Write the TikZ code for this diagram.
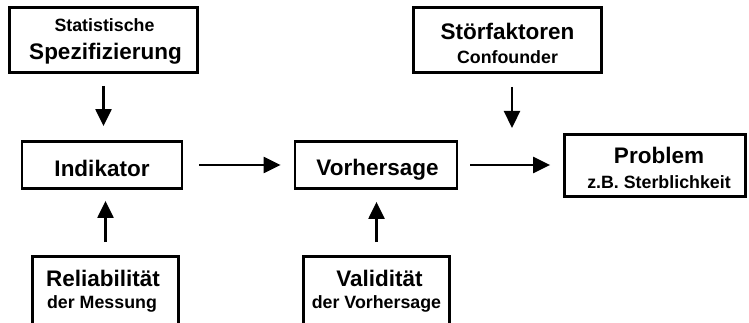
\documentclass[tikz,border=0pt]{standalone}
\usepackage{fontspec}
\setmainfont{Liberation Sans}
\usetikzlibrary{arrows.meta}
\begin{document}
\begin{tikzpicture}[x=1pt,y=-1pt,
  box/.style={draw,line width=2.8pt,rectangle,inner sep=0pt},
  bigtxt/.style={anchor=base,inner sep=0pt,font=\bfseries\fontsize{22.5}{24}\selectfont},
  smalltxt/.style={anchor=base,inner sep=0pt,font=\bfseries\fontsize{17.8}{20}\selectfont},
  flow/.style={line width=2.3pt,-{Triangle[length=17pt,width=16pt]}}]
\useasboundingbox (0,0) rectangle (749,323);

% upper row of influences
\node[box,minimum width=188,minimum height=65] (spez) at (103.5,40) {};
\node[smalltxt] (spez1) at ([xshift=1pt,yshift=8.3pt]spez.center) {Statistische};
\node[bigtxt]   (spez2) at ([xshift=2pt,yshift=-20pt]spez.center) {Spezifizierung};

\node[box,minimum width=188,minimum height=65] (stoer) at (507.5,40) {};
\node[bigtxt]   (stoer1) at ([yshift=0.7pt]stoer.center) {Störfaktoren};
\node[smalltxt] (stoer2) at ([yshift=-23.3pt]stoer.center) {Confounder};

% main chain
\node[box,minimum width=160,minimum height=47] (ind) at (102,165) {};
\node[bigtxt] (ind1) at ([yshift=-11.5pt]ind.center) {Indikator};

\node[box,minimum width=162,minimum height=47] (vor) at (376,165) {};
\node[bigtxt] (vor1) at ([xshift=1.5pt,yshift=-11pt]vor.center) {Vorhersage};

\node[box,minimum width=181,minimum height=62] (prob) at (655,165.5) {};
\node[bigtxt]   (prob1) at ([xshift=4pt,yshift=2.2pt]prob.center) {Problem};
\node[smalltxt] (prob2) at ([xshift=4pt,yshift=-22.8pt]prob.center) {z.B. Sterblichkeit};

% quality criteria below
\node[box,minimum width=146,minimum height=71] (rel) at (105.5,292) {};
\node[bigtxt]   (rel1) at ([xshift=-2.5pt,yshift=5.3pt]rel.center) {Reliabilität};
\node[smalltxt] (rel2) at ([xshift=-3.5pt,yshift=-16.3pt]rel.center) {der Messung};

\node[box,minimum width=146,minimum height=71] (val) at (376.5,292) {};
\node[bigtxt]   (val1) at ([xshift=3pt,yshift=5.3pt]val.center) {Validität};
\node[smalltxt] (val2) at ([yshift=-16.3pt]val.center) {der Vorhersage};

% connectors
\coordinate (cf) at (512,128);
\draw[flow,shorten <=12pt,shorten >=14pt] (spez.south) -- (spez.south |- ind.north);
\draw[flow,shorten <=16pt,shorten >=13pt] (ind.east) -- (ind.east -| vor.west);
\draw[flow,shorten <=12pt,shorten >=13pt] (vor.east) -- (vor.east -| prob.west);
\draw[flow,shorten <=13pt] (stoer.south -| cf) -- (cf);
\draw[flow,shorten <=13pt,shorten >=11pt] (rel.north) -- (rel.north |- ind.south);
\draw[flow,shorten <=13pt,shorten >=12pt] (val.north) -- (val.north |- vor.south);
\end{tikzpicture}
\end{document}
